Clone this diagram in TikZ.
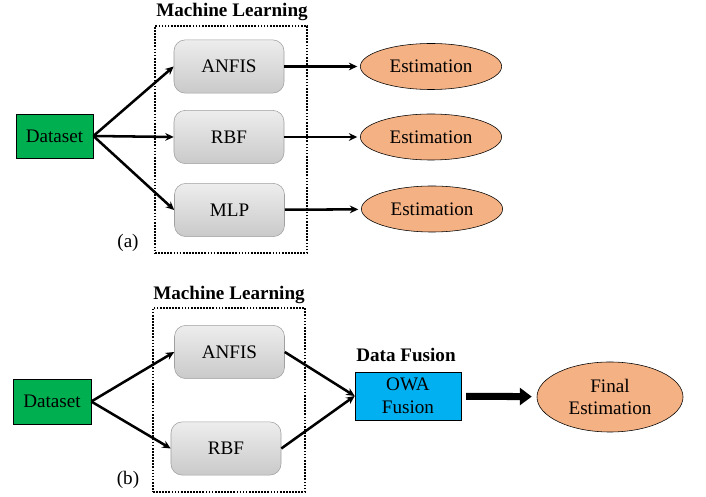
\documentclass[tikz,border=0pt]{standalone}
\usepackage{fontspec}
\setmainfont{Liberation Serif}
\usetikzlibrary{shapes.geometric,arrows.meta}

\definecolor{datagreen}{HTML}{00B050}
\definecolor{fuseblue}{HTML}{00B0F0}
\definecolor{estorange}{HTML}{F4B183}
\definecolor{boxedge}{HTML}{A0A0A0}

\tikzset{
  mlbox/.style={draw=boxedge, rounded corners=8, top color=gray!14, bottom color=gray!42, minimum width=2.75cm, minimum height=1.33cm},
  databox/.style={draw, fill=datagreen, minimum width=1.93cm, minimum height=1.1cm},
  fusebox/.style={draw, fill=fuseblue, minimum width=2.65cm, minimum height=1.2cm},
  estnode/.style={draw, ellipse, fill=estorange, minimum width=3.53cm, minimum height=1.15cm},
  groupbox/.style={draw, densely dotted, line width=1.2pt},
  grouptitle/.style={font=\fontsize{13.6}{16}\selectfont\bfseries}
}

\begin{document}
\begin{tikzpicture}[x=0.025cm, y=-0.025cm]
        \useasboundingbox (0,0) rectangle (706,497);
        \begin{scope}[every node/.style={font=\fontsize{13.6}{16.3}\selectfont, inner sep=1, align=center}]
            % (a)
            \node[grouptitle] (TitleA) at (232,12) {Machine Learning};
            \node[groupbox, minimum width=3.8cm, minimum height=5.675cm] (GroupA) at (231,139.5) {};
            \node[databox] (DataA) at (54.5,136) {Dataset};
            \node[mlbox] (AnfisA) at (229,66.5) {ANFIS};
            \node[mlbox] (RbfA) at (229,137) {RBF};
            \node[mlbox] (MlpA) at (229.5,210) {MLP};
            \node[estnode] (EstA1) at (431,66.5) {Estimation};
            \node[estnode] (EstA2) at (431,137) {Estimation};
            \node[estnode] (EstA3) at (432,209) {Estimation};
            \node (LabelA) at (128,243) {(a)};
            % (b)
            \node[grouptitle] (TitleB) at (229,295) {Machine Learning};
            \node[groupbox, minimum width=3.8cm, minimum height=4.6cm] (GroupB) at (229,400) {};
            \node[databox, minimum width=1.95cm, minimum height=1.125cm] (DataB) at (52,401.5) {Dataset};
            \node[mlbox] (AnfisB) at (229.5,352) {ANFIS};
            \node[mlbox] (RbfB) at (226,448.5) {RBF};
            \node (LabelB) at (128,480) {(b)};
            \node[grouptitle] (TitleF) at (406,355) {Data Fusion};
            \node[fusebox] (Owa) at (408,396) {OWA\\Fusion};
            \node[estnode, minimum width=3.65cm, minimum height=1.75cm] (Final) at (610,397) {Final\\Estimation};
        \end{scope}
        \begin{scope}[every path/.style={line width=1.8pt, ->, >={Stealth[length=6pt, width=5.5pt]}}]
            \path (DataA.east) edge (AnfisA.west);
            \path (DataA.east) edge (RbfA.west);
            \path (DataA.east) edge (MlpA.west);
            \path (AnfisA) edge [shorten >=2pt] (EstA1);
            \path (RbfA) edge [shorten >=2pt] (EstA2);
            \path (MlpA) edge [shorten >=2pt] (EstA3);
            \path (DataB.east) edge (AnfisB.west);
            \path (DataB.east) edge (RbfB.west);
            \path (AnfisB.east) edge (Owa.west);
            \path (RbfB.east) edge (Owa.west);
        \end{scope}
        \draw[line width=5pt, -{Triangle[length=8.5pt, width=12pt]}, shorten <=3.5pt, shorten >=3.5pt] (Owa) -- (Final);
    \end{tikzpicture}
\end{document}
